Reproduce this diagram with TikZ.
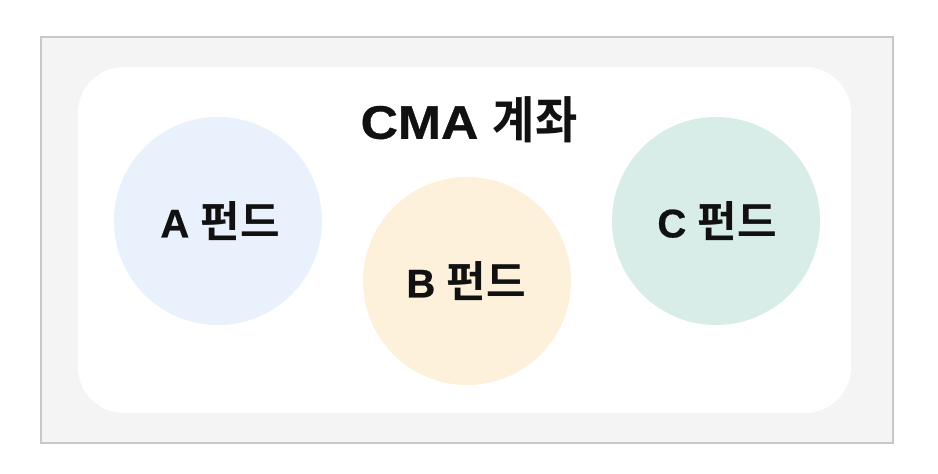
\documentclass[tikz,border=0pt]{standalone}
\usepackage{fontspec}
\setmainfont{Noto Sans CJK KR}[BoldFont={* Bold}]
\newfontfamily\kr{Noto Sans CJK KR Bold}
\newfontfamily\krT{Noto Sans CJK KR Bold}[FakeStretch=0.92]
\newfontfamily\lat{Liberation Sans Bold}[FakeBold=0.6]
\newfontfamily\latT{Liberation Sans Bold}[FakeStretch=1.1,FakeBold=0.8]
\definecolor{outerfill}{HTML}{F4F4F4}
\definecolor{outerline}{HTML}{C8C8C8}
\definecolor{cA}{HTML}{E8F1FC}
\definecolor{cB}{HTML}{FDF1DC}
\definecolor{cC}{HTML}{D8ECE8}
\definecolor{ink}{HTML}{111111}
\newcommand{\fundlabel}[1]{{\lat\fontsize{40}{42}\selectfont #1 }{\kr\fontsize{43}{46}\selectfont 펀드}}
\tikzset{
  fund/.style={circle, minimum size=208pt, inner sep=0pt, draw=none, text=ink},
  titletext/.style={text=ink, inner sep=0pt},
  fundtext/.style={text=ink, inner sep=0pt}
}
\begin{document}
\begin{tikzpicture}[x=1pt,y=-1pt]
\useasboundingbox (0,0) rectangle (938,474);
\fill[white] (0,0) rectangle (938,474);
\draw[fill=outerfill, draw=outerline, line width=1.2pt] (41,37) rectangle (893,443);
\fill[white, rounded corners=46pt] (78,67) rectangle (851,413);
\node[titletext] (title) at (469,120) {{\latT\fontsize{47}{50}\selectfont CMA }{\krT\fontsize{50}{54}\selectfont 계좌}};
\node[fund, fill=cA] (A) at (218,221) {};
\node[fund, fill=cB] (B) at (467,281) {};
\node[fund, fill=cC] (C) at (716,221) {};
\node[fundtext] (Alab) at (220,221) {\fundlabel{A}};
\node[fundtext] (Blab) at (466,281) {\fundlabel{B}};
\node[fundtext] (Clab) at (717,221) {\fundlabel{C}};
\end{tikzpicture}
\end{document}
